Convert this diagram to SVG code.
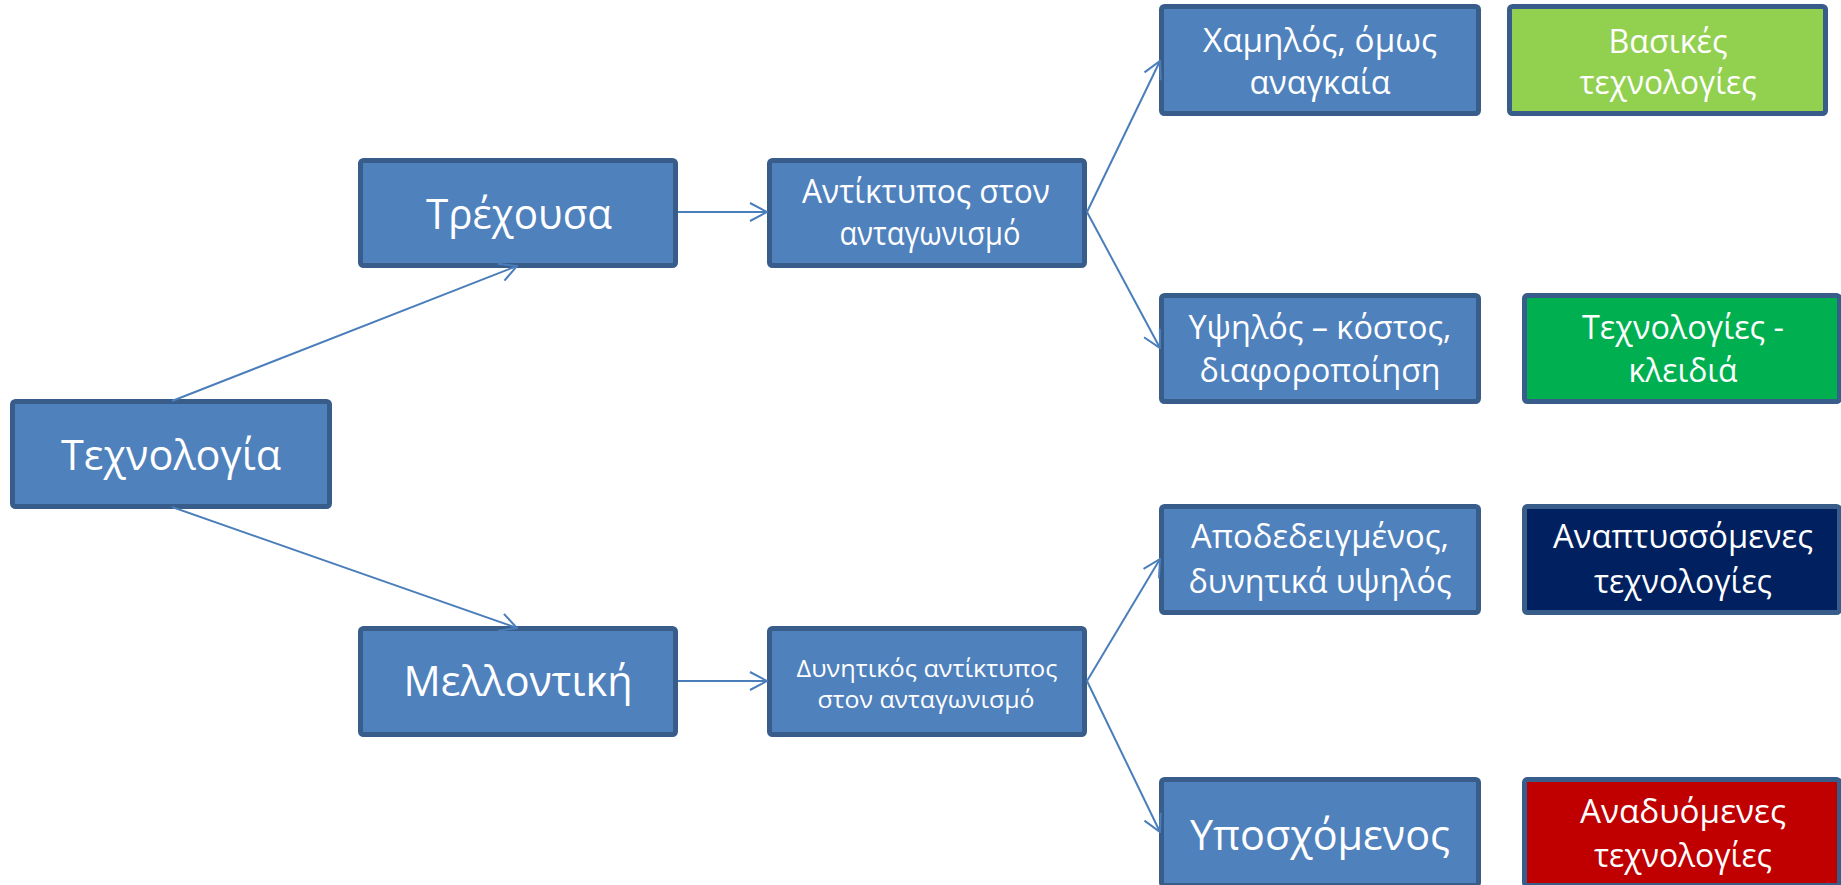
<svg xmlns="http://www.w3.org/2000/svg" width="1841" height="885" viewBox="0 0 1841 885">
<style>
.box{fill:#4F81BD;stroke:#385D8A;stroke-width:5}
.lg{fill:#92D050;stroke:#385D8A;stroke-width:5}
.gr{fill:#00B050;stroke:#385D8A;stroke-width:5}
.nv{fill:#002060;stroke:#385D8A;stroke-width:5}
.rd{fill:#C00000;stroke:#385D8A;stroke-width:5}
text{font-family:"Open Sans","Noto Sans","DejaVu Sans",sans-serif;fill:#FFFFFF;text-anchor:middle}
.big{font-size:42px}
.mid{font-size:33px}
.sml{font-size:24px}
.conn{stroke:#4A7EBB;stroke-width:2;fill:none}
</style>
<defs>
<marker id="arr" viewBox="0 0 20 20" refX="19" refY="10" markerWidth="20" markerHeight="20" markerUnits="userSpaceOnUse" orient="auto">
<path d="M2,1 L19,10 L2,19" fill="none" stroke="#4A7EBB" stroke-width="2"/>
</marker>
</defs>
<rect width="1841" height="885" fill="#FFFFFF"/>
<g id="n-tech"><rect class="box" x="12.5" y="401.5" width="317" height="105" rx="3"/><text class="big" x="171" y="470" textLength="220" lengthAdjust="spacingAndGlyphs">Τεχνολογία</text></g>
<g id="n-current"><rect class="box" x="360.5" y="160.5" width="315" height="105" rx="3"/><text class="big" x="519" y="229" textLength="186" lengthAdjust="spacingAndGlyphs">Τρέχουσα</text></g>
<g id="n-impact"><rect class="box" x="769.5" y="160.5" width="315" height="105" rx="3"/><text class="mid" x="926" y="203" textLength="248" lengthAdjust="spacingAndGlyphs">Αντίκτυπος στον</text><text class="mid" x="930" y="245" textLength="181" lengthAdjust="spacingAndGlyphs">ανταγωνισμό</text></g>
<g id="n-low"><rect class="box" x="1161.5" y="6.5" width="317" height="107" rx="3"/><text class="mid" x="1320" y="52" textLength="234" lengthAdjust="spacingAndGlyphs">Χαμηλός, όμως</text><text class="mid" x="1320" y="94" textLength="141" lengthAdjust="spacingAndGlyphs">αναγκαία</text></g>
<g id="n-basic"><rect class="lg" x="1509.5" y="6.5" width="316" height="107" rx="3"/><text class="mid" x="1668" y="53" textLength="119" lengthAdjust="spacingAndGlyphs">Βασικές</text><text class="mid" x="1668" y="94" textLength="177" lengthAdjust="spacingAndGlyphs">τεχνολογίες</text></g>
<g id="n-high"><rect class="box" x="1161.5" y="295.5" width="317" height="106" rx="3"/><text class="mid" x="1320" y="339" textLength="263" lengthAdjust="spacingAndGlyphs">Υψηλός – κόστος,</text><text class="mid" x="1320" y="382" textLength="241" lengthAdjust="spacingAndGlyphs">διαφοροποίηση</text></g>
<g id="n-key"><rect class="gr" x="1524.5" y="295.5" width="315" height="106" rx="3"/><text class="mid" x="1683" y="339" textLength="202" lengthAdjust="spacingAndGlyphs">Τεχνολογίες -</text><text class="mid" x="1683" y="382" textLength="109" lengthAdjust="spacingAndGlyphs">κλειδιά</text></g>
<g id="n-proven"><rect class="box" x="1161.5" y="506.5" width="317" height="106" rx="3"/><text class="mid" x="1320" y="548" textLength="258" lengthAdjust="spacingAndGlyphs">Αποδεδειγμένος,</text><text class="mid" x="1320" y="593" textLength="263" lengthAdjust="spacingAndGlyphs">δυνητικά υψηλός</text></g>
<g id="n-developing"><rect class="nv" x="1524.5" y="506.5" width="315" height="106" rx="3"/><text class="mid" x="1683" y="548" textLength="260" lengthAdjust="spacingAndGlyphs">Αναπτυσσόμενες</text><text class="mid" x="1683" y="593" textLength="178" lengthAdjust="spacingAndGlyphs">τεχνολογίες</text></g>
<g id="n-future"><rect class="box" x="360.5" y="628.5" width="315" height="106" rx="3"/><text class="big" x="518" y="696" textLength="229" lengthAdjust="spacingAndGlyphs">Μελλοντική</text></g>
<g id="n-potential"><rect class="box" x="769.5" y="628.5" width="315" height="106" rx="3"/><text class="sml" x="927" y="677" textLength="261" lengthAdjust="spacingAndGlyphs">Δυνητικός αντίκτυπος</text><text class="sml" x="926" y="708" textLength="217" lengthAdjust="spacingAndGlyphs">στον ανταγωνισμό</text></g>
<g id="n-promising"><rect class="box" x="1161.5" y="779.5" width="317" height="106" rx="3"/><text class="big" x="1320" y="850" textLength="260" lengthAdjust="spacingAndGlyphs">Υποσχόμενος</text></g>
<g id="n-emerging"><rect class="rd" x="1524.5" y="779.5" width="315" height="106" rx="3"/><text class="mid" x="1683" y="823" textLength="206" lengthAdjust="spacingAndGlyphs">Αναδυόμενες</text><text class="mid" x="1683" y="867" textLength="178" lengthAdjust="spacingAndGlyphs">τεχνολογίες</text></g>
<g id="connectors">
<line class="conn" x1="172" y1="401" x2="517" y2="266" marker-end="url(#arr)"/>
<line class="conn" x1="172" y1="507" x2="517" y2="628" marker-end="url(#arr)"/>
<line class="conn" x1="678" y1="212" x2="767" y2="212" marker-end="url(#arr)"/>
<line class="conn" x1="678" y1="681" x2="767" y2="681" marker-end="url(#arr)"/>
<line class="conn" x1="1087" y1="212" x2="1160" y2="61" marker-end="url(#arr)"/>
<line class="conn" x1="1087" y1="212" x2="1160" y2="348" marker-end="url(#arr)"/>
<line class="conn" x1="1087" y1="681" x2="1160" y2="559" marker-end="url(#arr)"/>
<line class="conn" x1="1087" y1="681" x2="1160" y2="832" marker-end="url(#arr)"/>
</g>
</svg>
